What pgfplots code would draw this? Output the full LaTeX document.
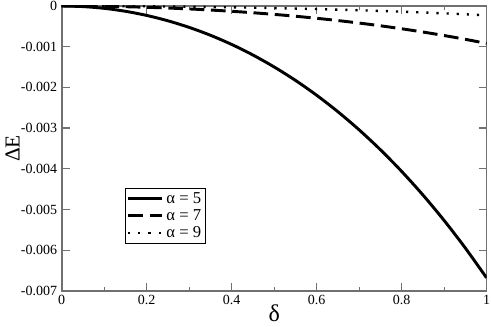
\documentclass[border=0pt]{standalone}
\usepackage{fontspec}
\setmainfont{Liberation Serif}
\usepackage{pgfplots}
\pgfplotsset{compat=1.18}
\usetikzlibrary{calc}
\definecolor{framegrey}{HTML}{707070}
\begin{document}
\begin{tikzpicture}
\begin{axis}[
  scale only axis,
  width=318.75pt, height=213.75pt,
  xmin=0, xmax=1, ymin=-0.007, ymax=0,
  xtick={0,0.2,0.4,0.6,0.8,1},
  ytick={-0.007,-0.006,-0.005,-0.004,-0.003,-0.002,-0.001,0},
  minor x tick num=1,
  scaled y ticks=false,
  yticklabel style={/pgf/number format/fixed,/pgf/number format/precision=3},
  /pgf/number format/assume math mode=true,
  tick label style={font=\rmfamily\fontsize{10.5}{12}\selectfont},
  tick align=inside,
  major tick length=6pt, minor tick length=3pt,
  every tick/.style={framegrey, line width=0.9pt},
  axis line style={framegrey, line width=1.2pt},
  xlabel={δ}, ylabel={ΔE},
  xlabel style={font=\fontsize{18}{18}\selectfont, yshift=7pt},
  ylabel style={font=\fontsize{16}{16}\selectfont, yshift=-6pt},
  legend style={at={(rel axis cs:0.149,0.361)}, anchor=north west,
    draw=black, line width=0.6pt, font=\rmfamily\fontsize{12.5}{12.5}\selectfont,
    inner sep=1pt, row sep=-1pt},
  legend cell align=left,
  legend image code/.code={\draw[#1] (0cm,0cm) -- (0.9cm,0cm);},
]
\coordinate (sw) at (rel axis cs:0,0);
\coordinate (ne) at (rel axis cs:1,1);
\addplot[black, line width=2.2pt, smooth] coordinates {
(0,0) (0.05,-0.0000144) (0.1,-0.0000577) (0.15,-0.000130) (0.2,-0.000232)
(0.25,-0.000364) (0.3,-0.000526) (0.35,-0.000719) (0.4,-0.000945)
(0.45,-0.001204) (0.5,-0.001498) (0.55,-0.001827) (0.6,-0.002193)
(0.65,-0.002598) (0.7,-0.003043) (0.75,-0.003531) (0.8,-0.004063)
(0.85,-0.004642) (0.9,-0.005269) (0.95,-0.005948) (1,-0.00668)
};
\addlegendentry{α = 5}
\addplot[black, line width=2.2pt, dash pattern=on 11pt off 5pt, smooth] coordinates {
(0,0) (0.05,-0.00000198) (0.1,-0.00000795) (0.15,-0.0000179) (0.2,-0.0000319)
(0.25,-0.0000501) (0.3,-0.0000724) (0.35,-0.0000991) (0.4,-0.0001302)
(0.45,-0.0001658) (0.5,-0.0002062) (0.55,-0.0002515) (0.6,-0.0003020)
(0.65,-0.0003577) (0.7,-0.0004191) (0.75,-0.0004862) (0.8,-0.0005595)
(0.85,-0.0006392) (0.9,-0.0007256) (0.95,-0.0008190) (1,-0.00092)
};
\addlegendentry{α = 7}
\addplot[black, line width=1.8pt, dash pattern=on 1.6pt off 6pt, smooth] coordinates {
(0,0) (0.05,-0.0000005) (0.1,-0.00000198) (0.15,-0.00000447) (0.2,-0.00000798)
(0.25,-0.0000125) (0.3,-0.0000181) (0.35,-0.0000247) (0.4,-0.0000325)
(0.45,-0.0000414) (0.5,-0.0000515) (0.55,-0.0000628) (0.6,-0.0000754)
(0.65,-0.0000894) (0.7,-0.0001047) (0.75,-0.0001215) (0.8,-0.0001398)
(0.85,-0.0001597) (0.9,-0.0001813) (0.95,-0.0002046) (1,-0.00023)
};
\addlegendentry{α = 9}
\end{axis}
\pgfresetboundingbox
\path ($(sw)+(-46.3pt,-27pt)$) rectangle ($(ne)+(3.3pt,4.5pt)$);
\end{tikzpicture}
\end{document}
